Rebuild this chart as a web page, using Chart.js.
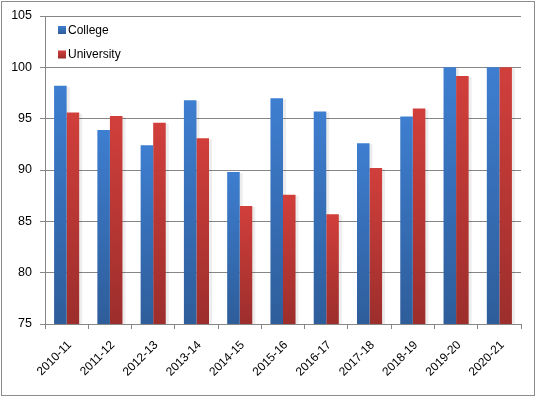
<!DOCTYPE html>
<html>
<head>
<meta charset="utf-8">
<script src="https://cdn.jsdelivr.net/npm/chart.js@4.4.1/dist/chart.umd.min.js"></script>
<style>
html,body{margin:0;padding:0;background:#fff;}
#wrap{width:536px;height:397px;position:relative;}
</style>
</head>
<body>
<div id="wrap"><canvas id="c" width="536" height="397"></canvas></div>
<script>
const categories = ["2010-11","2011-12","2012-13","2013-14","2014-15","2015-16","2016-17","2017-18","2018-19","2019-20","2020-21"];
const college    = [98.2, 93.9, 92.4, 96.8, 89.8, 97.0, 95.7, 92.6, 95.2, 100, 100];
const university = [95.6, 95.25, 94.6, 93.1, 86.5, 87.6, 85.7, 90.2, 96.0, 99.15, 100];
const seriesNames = ["College", "University"];
const yTicks = [75, 80, 85, 90, 95, 100, 105];

const palette = [
  {top:"#3e7ed0", bottom:"#2e5d9a"},
  {top:"#d13f3b", bottom:"#9c2e2c"}
];
const FONT = "'Liberation Sans', Arial, sans-serif";

const gradientPlugin = {
  id: 'barGradient',
  beforeDatasetsDraw(chart) {
    const ctx = chart.ctx;
    const bottom = chart.chartArea.bottom;
    chart.data.datasets.forEach((ds, i) => {
      chart.getDatasetMeta(i).data.forEach(el => {
        const g = ctx.createLinearGradient(0, el.y, 0, bottom);
        g.addColorStop(0, palette[i].top);
        g.addColorStop(1, palette[i].bottom);
        el.options.backgroundColor = g;
      });
    });
  }
};

const shadowPlugin = {
  id: 'barShadow',
  beforeDatasetsDraw(chart) {
    const ctx = chart.ctx;
    const bottom = chart.chartArea.bottom;
    ctx.save();
    ctx.fillStyle = 'rgba(0,0,0,0.07)';
    chart.data.datasets.forEach((ds, i) => {
      chart.getDatasetMeta(i).data.forEach(el => {
        const w = el.width;
        ctx.fillRect(el.x - w/2 + 1, el.y + 1, w + 2, bottom - el.y - 1);
      });
    });
    ctx.restore();
  }
};

const legendPlugin = {
  id: 'innerLegend',
  afterDraw(chart) {
    const ctx = chart.ctx;
    ctx.save();
    ctx.font = "12px " + FONT;
    ctx.textBaseline = 'middle';
    chart.data.datasets.forEach((ds, i) => {
      const y = 30 + i * 24.5;
      const g = ctx.createLinearGradient(0, y - 4, 0, y + 4);
      g.addColorStop(0, palette[i].top);
      g.addColorStop(1, palette[i].bottom);
      ctx.fillStyle = g;
      ctx.fillRect(58, y - 4, 8, 8);
      ctx.fillStyle = '#000';
      ctx.fillText(ds.label, 68, y + 0.5);
    });
    ctx.restore();
  }
};

const borderPlugin = {
  id: 'outerBorder',
  afterDraw(chart) {
    const ctx = chart.ctx;
    ctx.save();
    ctx.strokeStyle = '#8c8c8c';
    ctx.lineWidth = 1;
    ctx.strokeRect(1.5, 1.5, 533, 394);
    ctx.restore();
  }
};

new Chart(document.getElementById('c'), {
  type: 'bar',
  data: {
    labels: categories,
    datasets: [
      {label: seriesNames[0], data: college, backgroundColor: () => palette[0].top, borderWidth: 0},
      {label: seriesNames[1], data: university, backgroundColor: () => palette[1].top, borderWidth: 0}
    ]
  },
  options: {
    responsive: false,
    animation: false,
    devicePixelRatio: 1,
    layout: {padding: {left: 0, top: 16, right: 15, bottom: 0}},
    datasets: {bar: {categoryPercentage: 0.58, barPercentage: 1.0}},
    plugins: {legend: {display: false}, tooltip: {enabled: false}},
    scales: {
      x: {
        afterFit: s => { s.height = 73; },
        grid: {drawOnChartArea: false, drawTicks: true, tickLength: 5, color: '#868686', offset: true},
        border: {color: '#868686', width: 1},
        ticks: {
          font: {family: FONT, size: 12}, color: '#000',
          maxRotation: 45, minRotation: 45, autoSkip: false, padding: 9, labelOffset: 3
        }
      },
      y: {
        min: yTicks[0], max: yTicks[yTicks.length - 1],
        afterFit: s => { s.width = 45; },
        afterBuildTicks: s => { s.ticks = yTicks.map(v => ({value: v})); },
        grid: {color: '#868686', tickLength: 5, drawTicks: true},
        border: {color: '#868686', width: 1},
        ticks: {font: {family: FONT, size: 12.5}, color: '#000', padding: 8}
      }
    }
  },
  plugins: [shadowPlugin, gradientPlugin, legendPlugin, borderPlugin]
});
</script>
</body>
</html>
